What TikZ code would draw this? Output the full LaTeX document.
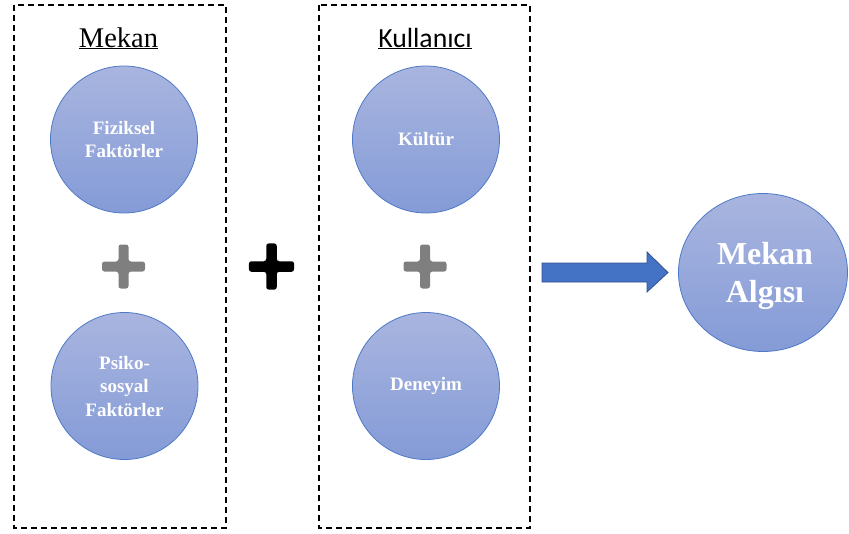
\documentclass[tikz,border=0pt]{standalone}
\usepackage{fontspec}
\setmainfont{Liberation Serif}
\newfontfamily\calibrifont{Carlito}
\usetikzlibrary{shapes.geometric}
\definecolor{ctop}{HTML}{A9B5DF}
\definecolor{cbot}{HTML}{849BD7}
\definecolor{cborder}{HTML}{4E79C6}
\definecolor{arrfill}{HTML}{4472C4}
\definecolor{arrdraw}{HTML}{2F528F}
\definecolor{plusgray}{HTML}{7F7F7F}
\tikzset{
  circ/.style={circle, draw=cborder, line width=0.8pt, top color=ctop, bottom color=cbot,
    minimum size=147pt, inner sep=0pt, text=white, align=center,
    font=\bfseries\fontsize{19}{23.5}\selectfont},
  dashbox/.style={draw=black, line width=1.5pt, dash pattern=on 6pt off 4pt},
  titletext/.style={anchor=base, inner sep=0pt},
  plussign/.pic={
    \path[pic actions, rounded corners=2.5pt]
      (-21.5,-5) -- (-5,-5) -- (-5,-22) -- (5,-22) -- (5,-5) -- (21.5,-5)
      -- (21.5,5) -- (5,5) -- (5,22) -- (-5,22) -- (-5,5) -- (-21.5,5) -- cycle;
  }
}
\begin{document}
\begin{tikzpicture}[x=1pt, y=-1pt]
\useasboundingbox (0,0) rectangle (849,533);
% dashed frames
\draw[dashbox] (14,5) rectangle (226,528);
\draw[dashbox] (319,5) rectangle (530,528);
% titles
\node[titletext, font=\fontsize{28.5}{34}\selectfont] (tmekan) at (118.5,47) {\underline{Mekan}};
\node[titletext, font=\calibrifont\fontsize{27.7}{33}\selectfont] (tkull) at (425,47) {\underline{Kullanıcı}};
% circles
\node[circ] (fiz) at (124,139.5) {Fiziksel\\Faktörler};
\node[circ] (psi) at (124.5,386) {Psiko-\\sosyal\\Faktörler};
\node[circ] (kul) at (426,139.5) {Kültür};
\node[circ] (den) at (426,386) {Deneyim};
% plus signs
\pic[fill=plusgray] (p1) at (123.5,266.5) {plussign};
\pic[fill=black, scale=1.05] (p2) at (271.5,266.5) {plussign};
\pic[fill=plusgray] (p3) at (425,266.5) {plussign};
% block arrow
\filldraw[fill=arrfill, draw=arrdraw, line width=0.8pt]
  (542,263) -- (647,263) -- (647,252) -- (668,272.5) -- (647,292) -- (647,282) -- (542,282) -- cycle;
% result ellipse
\node[ellipse, draw=cborder, line width=0.8pt, top color=ctop, bottom color=cbot,
  minimum width=169pt, minimum height=158pt, inner sep=0pt] (algi) at (763,272.5) {};
\node[text=white, align=center, inner sep=0pt,
  font=\bfseries\fontsize{32}{38}\selectfont] (algitext) at (765,276) {Mekan\\Algısı};
\end{tikzpicture}
\end{document}
